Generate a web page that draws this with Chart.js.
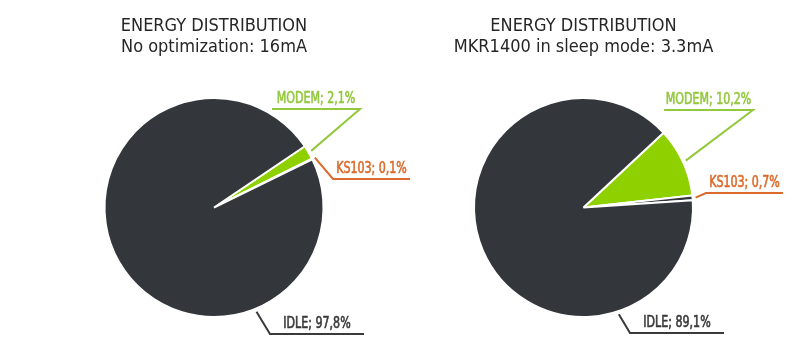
<!DOCTYPE html>
<html>
<head>
<meta charset="utf-8">
<script src="https://cdn.jsdelivr.net/npm/chart.js@4"></script>
<style>
  html, body { margin: 0; padding: 0; background: #fff; }
  #wrap { position: relative; width: 800px; height: 347px; overflow: hidden; }
  #wrap canvas { position: absolute; top: 0; }
</style>
</head>
<body>
<div id="wrap">
  <canvas id="noOpt" width="420" height="347" style="left:0"></canvas>
  <canvas id="sleep" width="420" height="347" style="left:380px"></canvas>
</div>
<script>
// consumers and their share of the current draw (%)
var categories  = ["MODEM", "KS103", "IDLE"];
var noOptShares = [2.1, 0.1, 97.8];
var sleepShares = [10.2, 0.7, 89.1];

var noOptTitle = ["ENERGY DISTRIBUTION", "No optimization: 16mA"];
var sleepTitle = ["ENERGY DISTRIBUTION", "MKR1400 in sleep mode: 3.3mA"];

var FONT = "'Liberation Sans Narrow', 'Arial Narrow', 'DejaVu Sans Condensed', sans-serif";
var DARK   = "#33363b";
var GREEN  = "#8fd000";
var LGREEN = "#93c83e";
var ORANGE = "#dc6a2c";
var TEXT   = "#3a3a3a";

function fmt(v) {
  return v.toFixed(1).replace(".", ",") + "%";
}

// leader lines with a label on the horizontal run
var callouts = {
  id: "callouts",
  afterDatasetsDraw: function(chart, args, opts) {
    var ctx  = chart.ctx;
    var meta = chart.getDatasetMeta(0);
    var vals = chart.data.datasets[0].data;
    ctx.save();
    ctx.font = "15px " + FONT;
    ctx.textAlign = "center";
    ctx.textBaseline = "alphabetic";
    opts.items.forEach(function(c, i) {
      var arc = meta.data[i];
      var p = arc.getProps(["x", "y", "startAngle", "endAngle", "outerRadius"], true);
      var a = c.anchorDeg != null ? (c.anchorDeg - 90) * Math.PI / 180
                                  : (p.startAngle + p.endAngle) / 2;
      var r  = p.outerRadius + 3;
      var ax = p.x + Math.cos(a) * r, ay = p.y + Math.sin(a) * r;
      var ex = p.x + c.elbow[0], ey = p.y + c.elbow[1];
      var tx = p.x + c.endX;
      ctx.lineWidth = 2;
      ctx.strokeStyle = c.color;
      ctx.beginPath();
      ctx.moveTo(ax, ay);
      ctx.lineTo(ex, ey);
      ctx.lineTo(tx, ey);
      ctx.stroke();
      // squeeze the label a little, the installed fonts run wide,
      // and give it a touch more weight
      var txt = chart.data.labels[i] + "; " + fmt(vals[i]);
      ctx.save();
      ctx.translate((ex + tx) / 2, ey - 6);
      ctx.scale(0.82, 1);
      ctx.fillStyle = c.color;
      ctx.lineWidth = 0.6;
      ctx.fillText(txt, 0, 0);
      ctx.strokeText(txt, 0, 0);
      ctx.restore();
    });
    ctx.restore();
  }
};

function makePie(id, title, shares, rotation, pad, items) {
  return new Chart(document.getElementById(id), {
    type: "pie",
    data: {
      labels: categories,
      datasets: [{
        data: shares,
        backgroundColor: [GREEN, DARK, DARK],
        borderColor: "#ffffff",
        borderWidth: 2,
        radius: 109.5
      }]
    },
    options: {
      responsive: false,
      animation: false,
      rotation: rotation,
      layout: { padding: pad },
      plugins: {
        legend: { display: false },
        tooltip: { enabled: false },
        title: {
          display: true,
          text: title,
          color: "#262626",
          font: { family: FONT, size: 18, weight: "normal", lineHeight: "21px" },
          padding: { top: 16, bottom: 18 }
        },
        callouts: { items: items }
      }
    },
    plugins: [callouts]
  });
}

makePie("noOpt", noOptTitle, noOptShares, 56,
  { left: 28, right: 20, top: 0, bottom: 8 },
  [
    { color: LGREEN, elbow: [146, -98.5], endX: 58 },
    { color: ORANGE, elbow: [119, -28.5], endX: 196 },
    { color: TEXT, anchorDeg: 157.8, elbow: [56, 126.5], endX: 150 }
  ]);

makePie("sleep", sleepTitle, sleepShares, 47,
  { left: 0, right: 13, top: 0, bottom: 8 },
  [
    { color: LGREEN, elbow: [169.5, -97.5], endX: 80.5 },
    { color: ORANGE, elbow: [122.5, -14.5], endX: 199.5 },
    { color: TEXT, anchorDeg: 161.7, elbow: [46.5, 125.5], endX: 140.5 }
  ]);
</script>
</body>
</html>
